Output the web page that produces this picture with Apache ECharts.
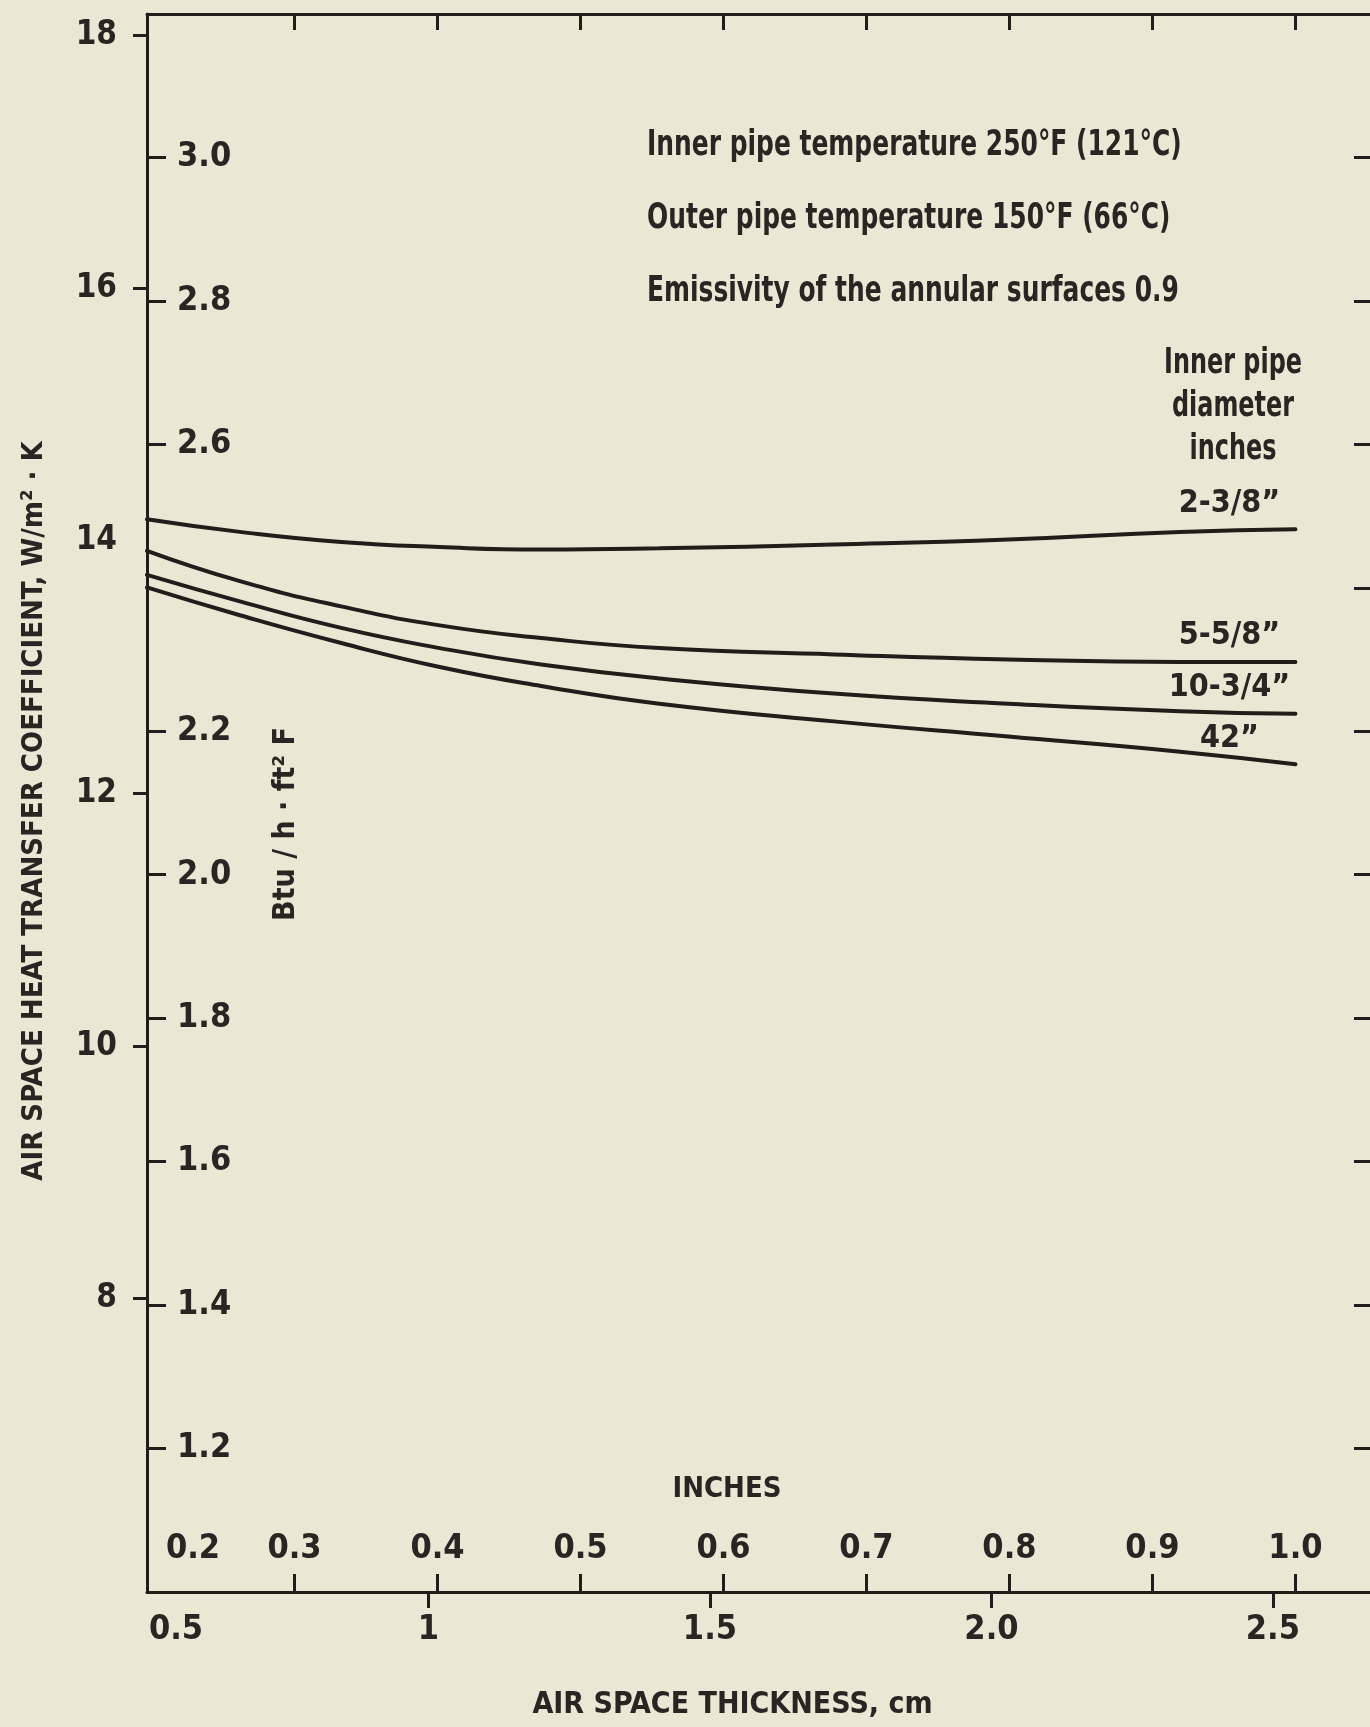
<!DOCTYPE html>
<html>
<head>
<meta charset="utf-8">
<script src="https://cdn.jsdelivr.net/npm/echarts@6/dist/echarts.min.js"></script>
<style>
  html, body { margin: 0; padding: 0; background: #ece7d5; }
  #chart { width: 1370px; height: 1727px; }
</style>
</head>
<body>
<div id="chart"></div>
<script>
// ---------------- DATA ----------------
const BTU_TO_W = 5.678;                 // 1 Btu/h·ft²·F = 5.678 W/m²·K
const CM_PER_INCH = 2.54;

// air space thickness, cm
const xCm = [0.5, 0.665, 0.845, 1.02, 1.2, 1.41, 1.72, 2.03, 2.335, 2.54];

// heat transfer coefficient, W/m²·K, one list per inner pipe diameter
const seriesNames = ['2-3/8”', '5-5/8”', '10-3/4”', '42”'];
const d2_3_8  = [14.17, 14.07, 13.99, 13.95, 13.93, 13.94, 13.97, 14.01, 14.07, 14.09];
const d5_5_8  = [13.92, 13.68, 13.48, 13.33, 13.23, 13.15, 13.10, 13.06, 13.04, 13.04];
const d10_3_4 = [13.73, 13.52, 13.31, 13.15, 13.02, 12.91, 12.79, 12.71, 12.65, 12.63];
const d42     = [13.63, 13.41, 13.19, 13.00, 12.85, 12.71, 12.57, 12.45, 12.33, 12.23];

// axis ranges
const xRangeCm = [0.5, 2.676];
const yRangeBtu = [1.0, 3.2];

// tick values / labels
const cmTickValues = [1, 1.5, 2, 2.5];
const cmLabelValues = [0.5, 1, 1.5, 2, 2.5];
const cmLabelText = ['0.5', '1', '1.5', '2.0', '2.5'];
const inchTickValues = [0.3, 0.4, 0.5, 0.6, 0.7, 0.8, 0.9, 1.0];
const inchLabelValues = [0.2, 0.3, 0.4, 0.5, 0.6, 0.7, 0.8, 0.9, 1.0];
const wTickValues = [8, 10, 12, 16, 18];
const wLabelValues = [8, 10, 12, 14, 16, 18];
const btuLeftValues = [1.2, 1.4, 1.6, 1.8, 2.0, 2.2, 2.6, 2.8, 3.0];
const btuRightTicks = [1.2, 1.4, 1.6, 1.8, 2.0, 2.2, 2.4, 2.6, 2.8, 3.0];

// texts
const xTitle = 'AIR SPACE THICKNESS, cm';
const xInchTitle = 'INCHES';
const yTitle = 'AIR SPACE HEAT TRANSFER COEFFICIENT, W/m² · K';
const yBtuTitle = 'Btu / h · ft² F';
const conditionLines = [
  'Inner pipe temperature 250°F (121°C)',
  'Outer pipe temperature 150°F (66°C)',
  'Emissivity of the annular surfaces 0.9'
];
const legendHeading = 'Inner pipe\ndiameter\ninches';

// ---------------- STYLE ----------------
const FONT = "'Liberation Sans Narrow', 'DejaVu Sans Condensed', 'Arial Narrow', 'Liberation Sans', sans-serif";
const TEXT_COLOR = '#2a2522';
const LINE_COLOR = '#221d1a';
const labelBase = { color: TEXT_COLOR, fontFamily: FONT, fontWeight: 'bold', fontSize: 34 };
const axisLine = { show: true, lineStyle: { color: LINE_COLOR, width: 3 } };
const tickLine = { color: LINE_COLOR, width: 3 };

function nearest(v, values, texts) {
  let best = 0;
  for (let i = 1; i < values.length; i++) {
    if (Math.abs(values[i] - v) < Math.abs(values[best] - v)) best = i;
  }
  return texts[best];
}

const seriesData = [d2_3_8, d5_5_8, d10_3_4, d42];

const option = {
  backgroundColor: '#ece7d5',
  animation: false,
  grid: { left: 147, top: 14, width: 1225, height: 1578, outerBoundsMode: 'none', containLabel: false },
  xAxis: [
    {
      type: 'value', position: 'bottom', min: xRangeCm[0], max: xRangeCm[1],
      axisLine: axisLine,
      axisTick: { show: true, inside: false, length: 16, lineStyle: tickLine, customValues: cmTickValues },
      axisLabel: {
        show: true, margin: 21, customValues: cmLabelValues, ...labelBase,
        formatter: v => {
          const t = nearest(v, cmLabelValues, cmLabelText);
          return Math.abs(v - cmLabelValues[0]) < 1e-9 ? '{first|' + t + '}' : t;
        },
        rich: { first: { ...labelBase, padding: [0, 0, 0, 58] } }
      },
      splitLine: { show: false },
      name: xTitle, nameLocation: 'middle', nameGap: 98,
      nameTextStyle: { ...labelBase, fontSize: 30, padding: [0, 54, 0, 0] }
    },
    {
      type: 'value', position: 'bottom',
      min: xRangeCm[0] / CM_PER_INCH, max: xRangeCm[1] / CM_PER_INCH,
      axisLine: { show: false },
      axisTick: { show: true, inside: true, length: 18, lineStyle: tickLine, customValues: inchTickValues },
      axisLabel: {
        show: true, inside: true, margin: 26, customValues: inchLabelValues, ...labelBase,
        formatter: v => {
          const t = nearest(v, inchLabelValues, inchLabelValues.map(x => x.toFixed(1)));
          return Math.abs(v - inchLabelValues[0]) < 1e-9 ? '{first|' + t + '}' : t;
        },
        rich: { first: { ...labelBase, padding: [0, 0, 0, 83] } }
      },
      splitLine: { show: false },
      name: xInchTitle, nameLocation: 'middle', nameGap: -117,
      nameTextStyle: { ...labelBase, fontSize: 29, padding: [0, 65, 0, 0] }
    },
    {
      type: 'value', position: 'top',
      min: xRangeCm[0] / CM_PER_INCH, max: xRangeCm[1] / CM_PER_INCH,
      axisLine: axisLine,
      axisTick: { show: true, inside: true, length: 16, lineStyle: tickLine, customValues: inchTickValues },
      axisLabel: { show: false },
      splitLine: { show: false }
    }
  ],
  yAxis: [
    {
      type: 'value', position: 'left',
      min: yRangeBtu[0] * BTU_TO_W, max: yRangeBtu[1] * BTU_TO_W,
      axisLine: axisLine,
      axisTick: { show: true, inside: false, length: 14, lineStyle: tickLine, customValues: wTickValues },
      axisLabel: { show: true, margin: 30, customValues: wLabelValues, ...labelBase, fontSize: 33,
        formatter: v => String(Math.round(v)) },
      splitLine: { show: false },
      name: yTitle, nameLocation: 'middle', nameGap: 98,
      nameTextStyle: { ...labelBase, fontSize: 29, padding: [0, 16, 0, 0] }
    },
    {
      type: 'value', position: 'left', min: yRangeBtu[0], max: yRangeBtu[1],
      axisLine: { show: false },
      axisTick: { show: true, inside: true, length: 19, lineStyle: tickLine, customValues: btuLeftValues },
      axisLabel: { show: true, inside: true, margin: 30, customValues: btuLeftValues, ...labelBase,
        formatter: v => v.toFixed(1) },
      splitLine: { show: false },
      name: yBtuTitle, nameLocation: 'middle', nameGap: -154,
      nameTextStyle: { ...labelBase, fontSize: 30, padding: [0, 42, 0, 0] }
    },
    {
      type: 'value', position: 'right', min: yRangeBtu[0], max: yRangeBtu[1],
      axisLine: axisLine,
      axisTick: { show: true, inside: true, length: 18, lineStyle: tickLine, customValues: btuRightTicks },
      axisLabel: { show: false },
      splitLine: { show: false }
    }
  ],
  series: seriesNames.map((name, k) => ({
    name: name,
    type: 'line',
    xAxisIndex: 0, yAxisIndex: 0,
    smooth: true,
    showSymbol: false,
    symbol: 'none',
    lineStyle: { color: LINE_COLOR, width: 4, cap: 'round' },
    data: xCm.map((x, i) => [x, seriesData[k][i]]),
    endLabel: {
      show: true, formatter: '{a}', distance: 0,
      align: 'center', verticalAlign: 'bottom', padding: [0, 132, 10, 0],
      ...labelBase, fontSize: 32
    },
    emphasis: { disabled: true }
  })),
  graphic: [
    ...conditionLines.map((t, i) => ({
      type: 'text', x: 647, y: 146 + i * 73, scaleX: 0.77,
      style: { text: t, fill: TEXT_COLOR, fontFamily: FONT, fontWeight: 'bold', fontSize: 36,
               align: 'left', verticalAlign: 'middle' }
    })),
    {
      type: 'text', x: 1233, y: 342, scaleX: 0.76,
      style: { text: legendHeading, fill: TEXT_COLOR, fontFamily: FONT, fontWeight: 'bold', fontSize: 35,
               align: 'center', verticalAlign: 'top', lineHeight: 43 }
    }
  ]
};

const chart = echarts.init(document.getElementById('chart'));
chart.setOption(option);
</script>
</body>
</html>
